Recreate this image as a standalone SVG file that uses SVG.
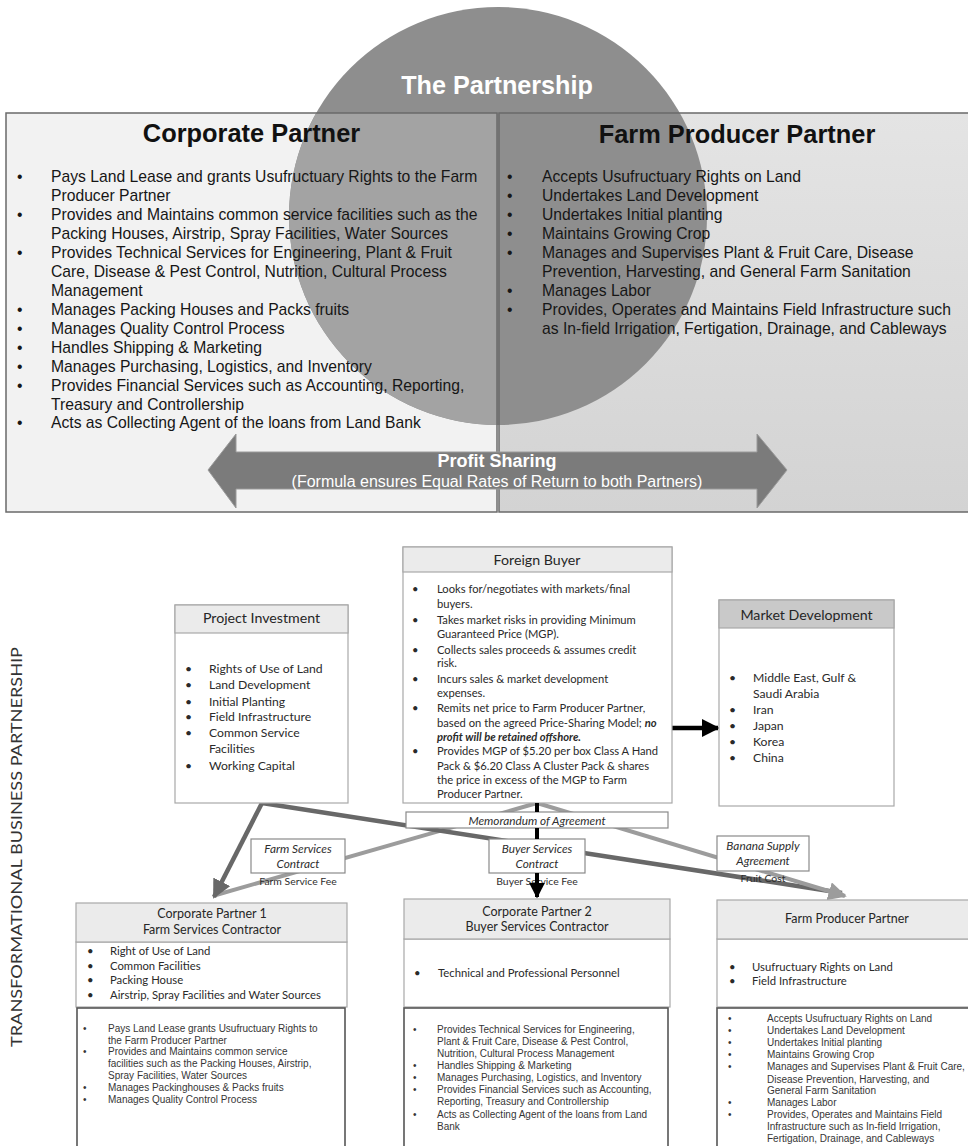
<svg xmlns="http://www.w3.org/2000/svg" width="968" height="1146" viewBox="0 0 968 1146">
  <style>
    .sans { font-family: "Liberation Sans", Arial, sans-serif; }
    .cal { font-family: Lato, "Liberation Sans", sans-serif; }
    .big { font-size: 15.7px; fill: #161616; }
    .ttl { font-size: 25.4px; font-weight: bold; fill: #111; text-anchor: middle; }
    .hdr { fill: #ebebeb; stroke: #a8a8a8; stroke-width: 1.2; }
    .body { fill: #ffffff; stroke: #a8a8a8; stroke-width: 1.2; }
    .body2 { fill: #ffffff; stroke: #555; stroke-width: 1.6; }
    .htxt { font-size: 14.2px; fill: #262626; text-anchor: middle; }
    .htxt2 { font-size: 12.5px; fill: #262626; text-anchor: middle; }
    .fb { font-size: 11.2px; fill: #2a2a2a; }
    .itm { font-size: 12.2px; fill: #2a2a2a; }
    .sm { font-size: 11.3px; fill: #2a2a2a; }
    .ar { font-size: 10px; fill: #363636; }
    .lbl { font-size: 11.8px; font-style: italic; fill: #2e2e2e; text-anchor: middle; }
    .fee { font-size: 10.4px; fill: #2e2e2e; text-anchor: middle; }
    .dark { stroke: #686868; stroke-width: 4.5; fill: none; }
    .light { stroke: #9c9c9c; stroke-width: 4; fill: none; }
  </style>
  <defs>
    <linearGradient id="rightFill" x1="0" y1="0" x2="0" y2="1">
      <stop offset="0" stop-color="#e4e4e4"/>
      <stop offset="1" stop-color="#d3d3d3"/>
    </linearGradient>
    <clipPath id="leftArea"><rect x="6" y="113" width="491" height="399"/></clipPath>
    <marker id="hDark" viewBox="0 0 10 10" refX="9" refY="5" markerWidth="4.2" markerHeight="4.2" orient="auto" markerUnits="strokeWidth">
      <path d="M0,0 L10,5 L0,10 z" fill="#686868"/>
    </marker>
    <marker id="hLight" viewBox="0 0 10 10" refX="9" refY="5" markerWidth="4.6" markerHeight="4.6" orient="auto" markerUnits="strokeWidth">
      <path d="M0,0 L10,5 L0,10 z" fill="#9c9c9c"/>
    </marker>
    <marker id="hBlack" viewBox="0 0 10 10" refX="9" refY="5" markerWidth="4" markerHeight="4" orient="auto" markerUnits="strokeWidth">
      <path d="M0,0 L10,5 L0,10 z" fill="#000"/>
    </marker>
  </defs>

  <rect width="968" height="1146" fill="#ffffff"/>

  <!-- Partnership panel -->
  <g id="partnership">
    <rect x="6" y="113" width="491" height="399" fill="#f2f2f2"/>
    <rect x="499" y="113" width="475" height="399" fill="url(#rightFill)"/>
    <circle cx="498" cy="216" r="209" fill="#8e8e8e"/>
    <circle cx="498" cy="216" r="209" fill="#a3a3a3" clip-path="url(#leftArea)"/>
    <rect x="6" y="113" width="491" height="399" fill="none" stroke="#6a6a6a" stroke-width="1.5"/>
    <rect x="499" y="113" width="475" height="399" fill="none" stroke="#6a6a6a" stroke-width="1.5"/>
    <text class="sans" x="497" y="94" font-size="25.2" font-weight="bold" fill="#fff" text-anchor="middle">The Partnership</text>
  </g>

  <g id="corporate-partner" class="sans">
    <text class="ttl" x="251.5" y="142">Corporate Partner</text>
    <g class="big">
      <text x="17" y="182">•</text><text x="51" y="182">Pays Land Lease and grants Usufructuary Rights to the Farm</text>
      <text x="51" y="201">Producer Partner</text>
      <text x="17" y="220">•</text><text x="51" y="220">Provides and Maintains common service facilities such as the</text>
      <text x="51" y="239">Packing Houses, Airstrip, Spray Facilities, Water Sources</text>
      <text x="17" y="258">•</text><text x="51" y="258">Provides Technical Services for Engineering, Plant &amp; Fruit</text>
      <text x="51" y="277">Care, Disease &amp; Pest Control, Nutrition, Cultural Process</text>
      <text x="51" y="296">Management</text>
      <text x="17" y="315">•</text><text x="51" y="315">Manages Packing Houses and Packs fruits</text>
      <text x="17" y="334">•</text><text x="51" y="334">Manages Quality Control Process</text>
      <text x="17" y="353">•</text><text x="51" y="353">Handles Shipping &amp; Marketing</text>
      <text x="17" y="372">•</text><text x="51" y="372">Manages Purchasing, Logistics, and Inventory</text>
      <text x="17" y="391">•</text><text x="51" y="391">Provides Financial Services such as Accounting, Reporting,</text>
      <text x="51" y="410">Treasury and Controllership</text>
      <text x="17" y="428">•</text><text x="51" y="428">Acts as Collecting Agent of the loans from Land Bank</text>
    </g>
  </g>

  <g id="farm-producer-partner" class="sans">
    <text class="ttl" x="737" y="143">Farm Producer Partner</text>
    <g class="big">
      <text x="507" y="182">•</text><text x="542" y="182">Accepts Usufructuary Rights on Land</text>
      <text x="507" y="201">•</text><text x="542" y="201">Undertakes Land Development</text>
      <text x="507" y="220">•</text><text x="542" y="220">Undertakes Initial planting</text>
      <text x="507" y="239">•</text><text x="542" y="239">Maintains Growing Crop</text>
      <text x="507" y="258">•</text><text x="542" y="258">Manages and Supervises Plant &amp; Fruit Care, Disease</text>
      <text x="542" y="277">Prevention, Harvesting, and General Farm Sanitation</text>
      <text x="507" y="296">•</text><text x="542" y="296">Manages Labor</text>
      <text x="507" y="315">•</text><text x="542" y="315">Provides, Operates and Maintains Field Infrastructure such</text>
      <text x="542" y="334">as In-field Irrigation, Fertigation, Drainage, and Cableways</text>
    </g>
  </g>

  <g id="profit-sharing" class="sans">
    <polygon points="208,470 236,434 236,452 757,452 757,434 787,470 757,508 757,489 236,489 236,508" fill="#7b7b7b" stroke="#9a9a9a" stroke-width="1"/>
    <text x="497" y="467" font-size="18" font-weight="bold" fill="#fff" text-anchor="middle">Profit Sharing</text>
    <text x="497" y="487" font-size="16" fill="#fff" text-anchor="middle">(Formula ensures Equal Rates of Return to both Partners)</text>
  </g>

  <!-- Business partnership chart -->
  <text class="cal" transform="translate(22,847) rotate(-90)" font-size="15.5" fill="#333" text-anchor="middle" textLength="400" lengthAdjust="spacingAndGlyphs">TRANSFORMATIONAL BUSINESS PARTNERSHIP</text>

  <g id="connectors">
    <line class="light" x1="537" y1="803" x2="216" y2="895"/>
    <line class="dark" x1="262" y1="803" x2="842" y2="893"/>
    <line class="dark" x1="262" y1="803" x2="214" y2="897" marker-end="url(#hDark)"/>
    <line class="light" x1="537" y1="803" x2="845" y2="896" marker-end="url(#hLight)"/>
    <line x1="672" y1="728" x2="718" y2="728" stroke="#000" stroke-width="4.5" marker-end="url(#hBlack)"/>
  </g>

  <g id="foreign-buyer" class="cal">
    <rect class="body" x="403" y="547" width="269" height="256"/>
    <rect class="hdr" x="403" y="547" width="269" height="25"/>
    <text class="htxt" x="537" y="565">Foreign Buyer</text>
    <g class="fb">
      <text x="412" y="593">•</text><text x="437" y="593">Looks for/negotiates with markets/final</text>
      <text x="437" y="608">buyers.</text>
      <text x="412" y="624">•</text><text x="437" y="624">Takes market risks in providing Minimum</text>
      <text x="437" y="638">Guaranteed Price (MGP).</text>
      <text x="412" y="654">•</text><text x="437" y="654">Collects sales proceeds &amp; assumes credit</text>
      <text x="437" y="667">risk.</text>
      <text x="412" y="683">•</text><text x="437" y="683">Incurs sales &amp; market development</text>
      <text x="437" y="697">expenses.</text>
      <text x="412" y="712">•</text><text x="437" y="712">Remits net price to Farm Producer Partner,</text>
      <text x="437" y="727">based on the agreed Price-Sharing Model; <tspan font-weight="bold" font-style="italic">no</tspan></text>
      <text x="437" y="741" font-weight="bold" font-style="italic">profit will be retained offshore.</text>
      <text x="412" y="755">•</text><text x="437" y="755">Provides MGP of $5.20 per box Class A Hand</text>
      <text x="437" y="770">Pack &amp; $6.20 Class A Cluster Pack &amp; shares</text>
      <text x="437" y="784">the price in excess of the MGP to Farm</text>
      <text x="437" y="798">Producer Partner.</text>
    </g>
  </g>

  <g id="project-investment" class="cal">
    <rect class="body" x="175" y="605" width="173" height="198"/>
    <rect class="hdr" x="175" y="605" width="173" height="28"/>
    <text class="htxt" x="261.5" y="623">Project Investment</text>
    <g class="itm">
      <text x="185" y="673">•</text><text x="209" y="673">Rights of Use of Land</text>
      <text x="185" y="689">•</text><text x="209" y="689">Land Development</text>
      <text x="185" y="706">•</text><text x="209" y="706">Initial Planting</text>
      <text x="185" y="721">•</text><text x="209" y="721">Field Infrastructure</text>
      <text x="185" y="737">•</text><text x="209" y="737">Common Service</text>
      <text x="209" y="753">Facilities</text>
      <text x="185" y="770">•</text><text x="209" y="770">Working Capital</text>
    </g>
  </g>

  <g id="market-development" class="cal">
    <rect class="body" x="719" y="600" width="175" height="206"/>
    <rect x="719" y="600" width="175" height="28" fill="#c9c9c9" stroke="#a8a8a8" stroke-width="1.2"/>
    <text class="htxt" x="806.5" y="620">Market Development</text>
    <g class="itm">
      <text x="729" y="682">•</text><text x="753" y="682">Middle East, Gulf &amp;</text>
      <text x="753" y="698">Saudi Arabia</text>
      <text x="729" y="714">•</text><text x="753" y="714">Iran</text>
      <text x="729" y="730">•</text><text x="753" y="730">Japan</text>
      <text x="729" y="746">•</text><text x="753" y="746">Korea</text>
      <text x="729" y="762">•</text><text x="753" y="762">China</text>
    </g>
  </g>

  <g id="contracts" class="cal">
    <g id="memorandum">
      <rect x="406" y="812" width="262" height="16" fill="#fff" stroke="#8a8a8a" stroke-width="1.2"/>
      <text class="lbl" x="537" y="824.5">Memorandum  of Agreement</text>
    </g>
    <g id="farm-services-contract">
      <rect x="251" y="839" width="94" height="34" fill="#fff" stroke="#8a8a8a" stroke-width="1.2"/>
      <text class="lbl" x="298" y="853">Farm Services</text>
      <text class="lbl" x="298" y="867.5">Contract</text>
      <text class="fee" x="298" y="885">Farm Service Fee</text>
    </g>
    <g id="buyer-services-contract">
      <rect x="489" y="839" width="96" height="34" fill="#fff" stroke="#8a8a8a" stroke-width="1.2"/>
      <text class="lbl" x="537" y="853">Buyer Services</text>
      <text class="lbl" x="537" y="867.5">Contract</text>
      <text class="fee" x="537" y="885">Buyer Service Fee</text>
    </g>
    <g id="banana-supply-agreement">
      <rect x="717" y="836" width="92" height="35" fill="#fff" stroke="#8a8a8a" stroke-width="1.2"/>
      <text class="lbl" x="763" y="850">Banana Supply</text>
      <text class="lbl" x="763" y="864.5">Agreement</text>
      <text class="fee" x="763" y="882">Fruit Cost</text>
    </g>
    <!-- buyer-services link runs down through the memorandum to Corporate Partner 2 -->
    <line x1="537" y1="803" x2="537" y2="812" stroke="#000" stroke-width="4"/>
    <line x1="537" y1="828" x2="537" y2="839" stroke="#000" stroke-width="4"/>
    <line x1="537" y1="873" x2="537" y2="897" stroke="#000" stroke-width="4" marker-end="url(#hBlack)"/>
  </g>

  <g id="corporate-partner-1">
    <rect class="body" x="76" y="942" width="271" height="65"/>
    <rect class="hdr" x="76" y="903" width="271" height="39"/>
    <text class="cal htxt2" x="212" y="918">Corporate Partner 1</text>
    <text class="cal htxt2" x="212" y="934">Farm Services Contractor</text>
    <g class="cal sm">
      <text x="87" y="955">•</text><text x="110" y="955">Right of Use of Land</text>
      <text x="87" y="970">•</text><text x="110" y="970">Common Facilities</text>
      <text x="87" y="984">•</text><text x="110" y="984">Packing House</text>
      <text x="87" y="999">•</text><text x="110" y="999">Airstrip, Spray Facilities and Water Sources</text>
    </g>
    <rect class="body2" x="77" y="1008" width="268" height="150"/>
    <g class="sans ar">
      <text x="83" y="1032">•</text><text x="108" y="1032">Pays Land Lease grants Usufructuary Rights to</text>
      <text x="108" y="1044">the Farm Producer Partner</text>
      <text x="83" y="1055">•</text><text x="108" y="1055">Provides and Maintains common service</text>
      <text x="108" y="1067">facilities such as the Packing Houses, Airstrip,</text>
      <text x="108" y="1079">Spray Facilities, Water Sources</text>
      <text x="83" y="1091">•</text><text x="108" y="1091">Manages Packinghouses &amp; Packs fruits</text>
      <text x="83" y="1103">•</text><text x="108" y="1103">Manages Quality Control Process</text>
    </g>
  </g>

  <g id="corporate-partner-2">
    <rect class="body" x="404" y="939" width="266" height="68"/>
    <rect class="hdr" x="404" y="899" width="266" height="40"/>
    <text class="cal htxt2" x="537" y="916">Corporate Partner 2</text>
    <text class="cal htxt2" x="537" y="931">Buyer Services Contractor</text>
    <g class="cal sm">
      <text x="414" y="977">•</text><text x="438" y="977">Technical and Professional Personnel</text>
    </g>
    <rect class="body2" x="404" y="1008" width="264" height="150"/>
    <g class="sans ar">
      <text x="413" y="1033">•</text><text x="437" y="1033">Provides Technical Services for Engineering,</text>
      <text x="437" y="1045">Plant &amp; Fruit Care, Disease &amp; Pest Control,</text>
      <text x="437" y="1057">Nutrition,  Cultural Process Management</text>
      <text x="413" y="1069">•</text><text x="437" y="1069">Handles Shipping &amp; Marketing</text>
      <text x="413" y="1081">•</text><text x="437" y="1081">Manages Purchasing, Logistics, and Inventory</text>
      <text x="413" y="1093">•</text><text x="437" y="1093">Provides Financial Services such as Accounting,</text>
      <text x="437" y="1105">Reporting, Treasury and Controllership</text>
      <text x="413" y="1118">•</text><text x="437" y="1118">Acts as Collecting Agent of the loans from Land</text>
      <text x="437" y="1130">Bank</text>
    </g>
  </g>

  <g id="farm-producer-partner-contractor">
    <rect class="body" x="717" y="939" width="260" height="68"/>
    <rect class="hdr" x="717" y="900" width="260" height="39"/>
    <text class="cal htxt2" x="847" y="923">Farm Producer Partner</text>
    <g class="cal sm">
      <text x="729" y="971">•</text><text x="752" y="971">Usufructuary Rights on Land</text>
      <text x="729" y="985">•</text><text x="752" y="985">Field Infrastructure</text>
    </g>
    <rect class="body2" x="717" y="1008" width="260" height="150"/>
    <g class="sans ar">
      <text x="728" y="1022">•</text><text x="767" y="1022">Accepts Usufructuary Rights on Land</text>
      <text x="728" y="1034">•</text><text x="767" y="1034">Undertakes Land Development</text>
      <text x="728" y="1046">•</text><text x="767" y="1046">Undertakes Initial planting</text>
      <text x="728" y="1058">•</text><text x="767" y="1058">Maintains Growing Crop</text>
      <text x="728" y="1070">•</text><text x="767" y="1070">Manages and Supervises Plant &amp; Fruit Care,</text>
      <text x="767" y="1083">Disease Prevention, Harvesting, and</text>
      <text x="767" y="1094">General Farm Sanitation</text>
      <text x="728" y="1106">•</text><text x="767" y="1106">Manages Labor</text>
      <text x="728" y="1118">•</text><text x="767" y="1118">Provides, Operates and Maintains Field</text>
      <text x="767" y="1130">Infrastructure such as In-field Irrigation,</text>
      <text x="767" y="1142">Fertigation, Drainage, and Cableways</text>
    </g>
  </g>
</svg>
